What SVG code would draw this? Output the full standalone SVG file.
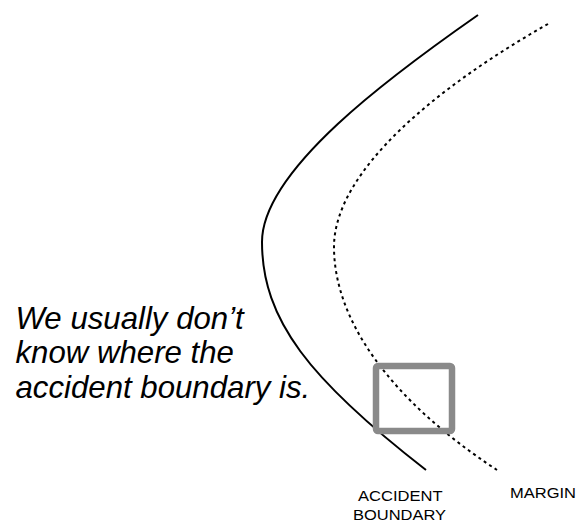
<svg xmlns="http://www.w3.org/2000/svg" width="578" height="522" viewBox="0 0 578 522">
<style>
.boundary{fill:none;stroke:#000;stroke-width:2}
.margin{fill:none;stroke:#000;stroke-width:2;stroke-dasharray:3 3.5}
.box{fill:none;stroke:#8a8a8a;stroke-width:6.5}
.note{font-family:"Liberation Sans",Arial,sans-serif;font-style:italic;font-size:31.2px;fill:#000}
.label{font-family:"Liberation Sans",Arial,sans-serif;font-size:14.5px;fill:#000}
</style>
<rect width="578" height="522" fill="#fff"/>
<g id="connectors">
<path id="accident-boundary" class="boundary" d="M478,15 C392,75 262,170 262,242 C262,320 310,380 426,470"/>
<path id="margin-line" class="margin" d="M548,24 C440,85 334,170 334,247 C334,320 390,400 497,470"/>
</g>
<g id="focus-box">
<rect class="box" x="376" y="366" width="76" height="65" rx="2"/>
</g>
<g id="note">
<text class="note" x="15.5" y="328.5">We usually don’t</text>
<text class="note" x="15.5" y="363">know where the</text>
<text class="note" x="15.5" y="397.5">accident boundary is.</text>
</g>
<g id="label-accident">
<text class="label" x="358" y="500.7" textLength="84.5" lengthAdjust="spacingAndGlyphs">ACCIDENT</text>
<text class="label" x="353" y="520" textLength="93" lengthAdjust="spacingAndGlyphs">BOUNDARY</text>
</g>
<g id="label-margin">
<text class="label" x="510" y="498" textLength="66" lengthAdjust="spacingAndGlyphs">MARGIN</text>
</g>
</svg>
